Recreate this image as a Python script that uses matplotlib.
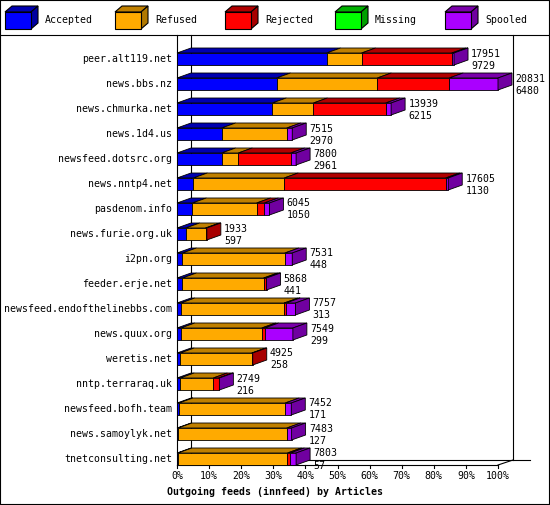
import matplotlib
matplotlib.use("Agg")
import matplotlib.pyplot as plt
from matplotlib.patches import Polygon, Rectangle

feeds = ["peer.alt119.net","news.bbs.nz","news.chmurka.net","news.1d4.us","newsfeed.dotsrc.org",
         "news.nntp4.net","pasdenom.info","news.furie.org.uk","i2pn.org","feeder.erje.net",
         "newsfeed.endofthelinebbs.com","news.quux.org","weretis.net","nntp.terraraq.uk",
         "newsfeed.bofh.team","news.samoylyk.net","tnetconsulting.net"]
totals = [17951,20831,13939,7515,7800,17605,6045,1933,7531,5868,7757,7549,4925,2749,7452,7483,7803]
second = [9729,6480,6215,2970,2961,1130,1050,597,448,441,313,299,258,216,171,127,57]
# percent of axis
accepted = [46.6,31.0,29.7,13.9,13.9,5.1,4.8,2.7,1.7,1.7,1.2,1.2,1.0,1.0,0.6,0.3,0.3]
refused  = [10.9,31.4,12.8,20.3,5.2,28.3,20.0,6.2,31.9,25.3,32.2,25.2,22.3,10.3,33.1,33.9,34.1]
rejected = [28.1,22.4,22.5,0.0,16.3,50.3,2.4,0.4,0.0,0.6,0.6,0.9,0.3,1.7,0.0,0.0,0.9]
missing  = [0]*17
spooled  = [0.7,15.2,1.7,1.7,1.7,0.8,1.6,0.0,2.3,0.3,2.9,8.8,0.0,0.2,1.9,1.5,1.8]
series = ["Accepted","Refused","Rejected","Missing","Spooled"]
xticks = [0,10,20,30,40,50,60,70,80,90,100]
xlabel = "Outgoing feeds (innfeed) by Articles"

front = ["#0000ff","#ffaa00","#ff0000","#00ff00","#aa00ff"]
top   = ["#0000b0","#c08000","#b00000","#00b000","#7a00aa"]
side  = ["#0000a0","#b07800","#a80000","#00a000","#7000a0"]

W,H = 550,505
fig = plt.figure(figsize=(W/100,H/100),dpi=100)
fig.patch.set_facecolor("white")
ov = fig.add_axes([0,0,1,1]); ov.set_xlim(0,W); ov.set_ylim(H,0); ov.axis("off")
x0px, pxp = 177, 3.21
ax = fig.add_axes([x0px/W, 1-465/H, 100*pxp/W, 430/H])
ax.set_xlim(0,100); ax.set_ylim(16.24,-0.96); ax.axis("off")
font = dict(family="DejaVu Sans Mono", fontsize=7.1)

# frame
K = dict(color="black", lw=0.8)
ov.plot([0,W-1,W-1,0,0],[0,0,H-1,H-1,0],**K)
ov.plot([0,W],[35,35],**K)
ov.plot([177,177],[35,465],**K)
ov.plot([191,191],[35,460],**K)
ov.plot([513,513],[35,460],**K)
ov.plot([177,498],[465,465],**K)
ov.plot([191,530],[460,460],**K)
ov.plot([498,513],[465,460],**K)
for t in xticks:
    x = x0px+pxp*t
    ov.plot([x,x],[465,468],**K)
    ov.text(x,476,f"{t}%",ha="center",va="center",**font)
ov.text(275,492,xlabel,ha="center",va="center",fontweight="bold",**font)

# legend
for i,(s,c) in enumerate(zip(series,front)):
    lx = 5+110*i
    ov.add_patch(Polygon([(lx,12),(lx+7,6),(lx+33,6),(lx+26,12)],fc=top[i],ec="black",lw=0.8))
    ov.add_patch(Polygon([(lx+26,12),(lx+33,6),(lx+33,23),(lx+26,29)],fc=side[i],ec="black",lw=0.8))
    ov.add_patch(Rectangle((lx,12),26,17,fc=c,ec="black",lw=0.8))
    ov.text(lx+40,20,s,ha="left",va="center",**font)

dx = 14/pxp; dy = 5/25; h = 6/25
data = [accepted,refused,rejected,missing,spooled]
P = dict(ec="black", lw=0.6, clip_on=False)
for r,name in enumerate(feeds):
    y = r
    ov.text(172,59+25*r,name,ha="right",va="center",**font)
    cum = 0; last = None
    for k in range(5):
        v = data[k][r]
        if v <= 0: continue
        a,b = cum,cum+v
        ax.add_patch(Polygon([(a,y-h),(b,y-h),(b+dx,y-h-dy),(a+dx,y-h-dy)],fc=top[k],**P))
        ax.add_patch(Rectangle((a,y-h),v,2*h,fc=front[k],**P))
        cum = b; last = k
    ax.add_patch(Polygon([(cum,y-h),(cum+dx,y-h-dy),(cum+dx,y+h-dy),(cum,y+h)],fc=side[last],**P))
    ax.text(cum+dx+1,y-0.22,str(totals[r]),ha="left",va="center",clip_on=False,**font)
    ax.text(cum+dx+1,y+0.26,str(second[r]),ha="left",va="center",clip_on=False,**font)

fig.savefig("out.png",dpi=100)
